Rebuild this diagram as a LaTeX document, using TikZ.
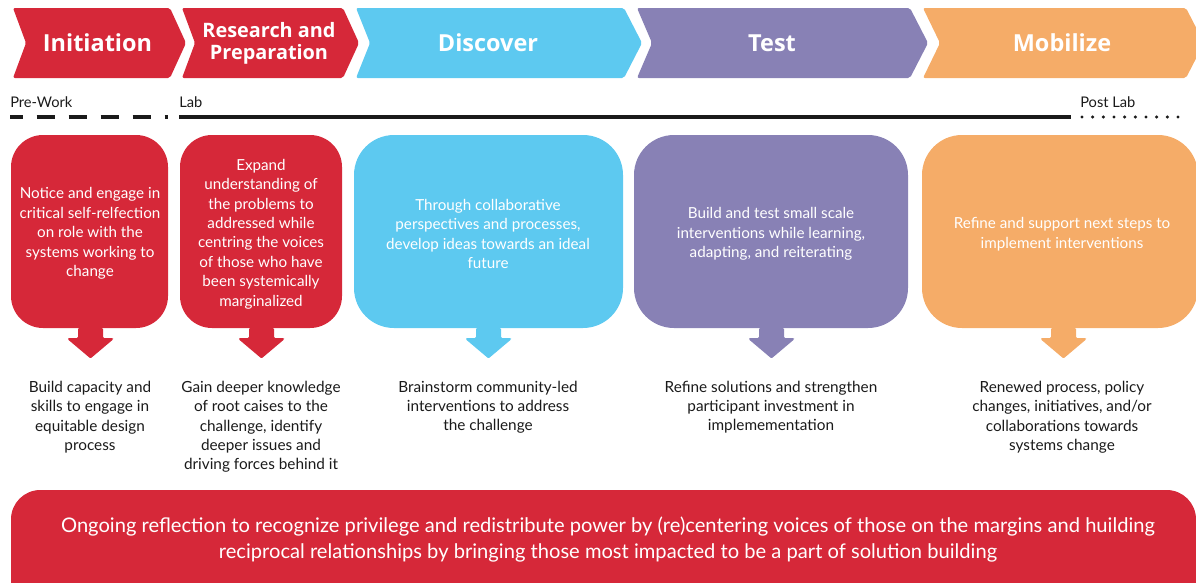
\documentclass[tikz,border=0pt]{standalone}
\usepackage{fontspec}
\setmainfont{Lato}
\newfontfamily\headfont{Open Sans}
\definecolor{cred}{HTML}{D62839}
\definecolor{cblue}{HTML}{5DC9F0}
\definecolor{cpurple}{HTML}{8881B5}
\definecolor{corange}{HTML}{F5AC68}
\definecolor{ctext}{HTML}{1A1A1A}
\tikzset{
  chev/.style={rounded corners=1.5pt},
  head/.style={text=white, font=\headfont\bfseries\fontsize{17.6}{20}\selectfont, align=center, inner sep=0pt},
  headsmall/.style={text=white, font=\headfont\bfseries\fontsize{14.9}{16.3}\selectfont, align=center, inner sep=0pt},
  phase/.style={font=\fontsize{11}{12}\selectfont, text=ctext, inner sep=0pt},
  stepbox/.style={rounded corners=24pt, inner sep=0pt},
  boxtext/.style={text=white, font=\fontsize{11.4}{14.6}\selectfont, align=center, inner sep=0pt},
  outtext/.style={text=ctext, font=\fontsize{11.5}{14.6}\selectfont, align=center, inner sep=0pt, anchor=north},
  timeline/.style={line width=2.3pt, ctext},
}
\newcommand{\downarrowshape}[2]{%
  \fill[#2, rounded corners=0.8pt] (#1) ++(-12,0) -- ++(0,10) -- ++(-10,0) -- ++(0,1.5) -- ++(22.5,19) -- ++(22.5,-19) -- ++(0,-1.5) -- ++(-10,0) -- ++(0,-10) -- cycle;}
\begin{document}
\begin{tikzpicture}[x=0.75pt,y=-0.75pt]
\useasboundingbox (0,0) rectangle (1196,582);
\clip (0,0) rectangle (1196,582);
% chevrons
\fill[cred,chev] (13,8) -- (170,8) -- (186,43) -- (170,78) -- (13,78) -- (26,43) -- cycle;
\fill[cred,chev] (182,8) -- (343,8) -- (359,43) -- (343,78) -- (182,78) -- (195,43) -- cycle;
\fill[cblue,chev] (356,8) -- (624,8) -- (642,43) -- (624,78) -- (356,78) -- (370,43) -- cycle;
\fill[cpurple,chev] (637,8) -- (910,8) -- (928,43) -- (910,78) -- (637,78) -- (652,43) -- cycle;
\fill[corange,chev] (923,8) -- (1186,8) -- (1204,43) -- (1186,78) -- (923,78) -- (940,43) -- cycle;
\node[head] (h1) at (97.5,43) {Initiation};
\node[headsmall] (h2) at (269,43) {Research and\\Preparation};
\node[head] (h3) at (488,43) {Discover};
\node[head] (h4) at (772,43) {Test};
\node[head] (h5) at (1062,43) {Mobilize};
% timeline
\node[phase, anchor=west] (pw) at (10,102) {Pre-Work};
\node[phase, anchor=west] (lab) at (179,102) {Lab};
\node[phase, anchor=west] (pl) at (1080,102) {Post Lab};
\coordinate (d0) at (10,117);
\coordinate (d1) at (168,117);
\coordinate (s0) at (179,117);
\coordinate (s1) at (1071,117);
\coordinate (t0) at (1082,117);
\coordinate (t1) at (1186,117);
\draw[timeline, dash pattern=on 13.5pt off 10.5pt, dash phase=4pt] (d0) -- (d1);
\draw[timeline] (s0) -- (s1);
\draw[ctext, line width=2.6pt, line cap=round, dash pattern=on 0pt off 8pt] (t0) -- (t1);
% boxes
\node[stepbox, fill=cred, minimum width=117.75pt, minimum height=144.75pt] (b1) at (89.5,231.5) {};
\node[stepbox, fill=cred, minimum width=121.5pt, minimum height=144.75pt] (b2) at (261,231.5) {};
\node[stepbox, fill=cblue, rounded corners=30pt, minimum width=201.75pt, minimum height=144.75pt] (b3) at (488.5,231.5) {};
\node[stepbox, fill=cpurple, rounded corners=30pt, minimum width=205.5pt, minimum height=144.75pt] (b4) at (771,231.5) {};
\node[stepbox, fill=corange, rounded corners=30pt, minimum width=207pt, minimum height=144.75pt] (b5) at (1060,231.5) {};
\node[boxtext] (bt1) at (90,233.5) {Notice and engage in\\critical self-relfection\\on role with the\\systems working to\\change};
\node[boxtext] (bt2) at (261,234) {Expand\\understanding of\\the problems to\\addressed while\\centring the voices\\of those who have\\been systemically\\marginalized};
\node[boxtext] (bt3) at (488,234) {Through collaborative\\perspectives and processes,\\develop ideas towards an ideal\\future};
\node[boxtext] (bt4) at (771,234) {Build and test small scale\\interventions while learning,\\adapting, and reiterating};
\node[boxtext] (bt5) at (1062,234) {Refine and support next steps to\\implement interventions};
% arrows
\coordinate (a1) at (90,328);
\coordinate (a2) at (261,328);
\coordinate (a3) at (488,328);
\coordinate (a4) at (771,328);
\coordinate (a5) at (1063,328);
\downarrowshape{a1}{cred}
\downarrowshape{a2}{cred}
\downarrowshape{a3}{cblue}
\downarrowshape{a4}{cpurple}
\downarrowshape{a5}{corange}
% outcomes
\node[outtext] (o1) at (90,380.5) {Build capacity and\\skills to engage in\\equitable design\\process};
\node[outtext] (o2) at (261,380.5) {Gain deeper knowledge\\of root caises to the\\challenge, identify\\deeper issues and\\driving forces behind it};
\node[outtext] (o3) at (488,380.5) {Brainstorm community-led\\interventions to address\\the challenge};
\node[outtext] (o4) at (771,380.5) {Refine solutions and strengthen\\participant investment in\\implemementation};
\node[outtext] (o5) at (1062,380.5) {Renewed process, policy\\changes, initiatives, and/or\\collaborations towards\\systems change};
% banner
\fill[cred, rounded corners=22pt] (11,490) rectangle (1196,610);
\node[boxtext, font=\fontsize{15.1}{18.8}\selectfont] (ban) at (608,539.5) {Ongoing reflection to recognize privilege and redistribute power by (re)centering voices of those on the margins and huilding\\reciprocal relationships by bringing those most impacted to be a part of solution building};
\end{tikzpicture}
\end{document}
